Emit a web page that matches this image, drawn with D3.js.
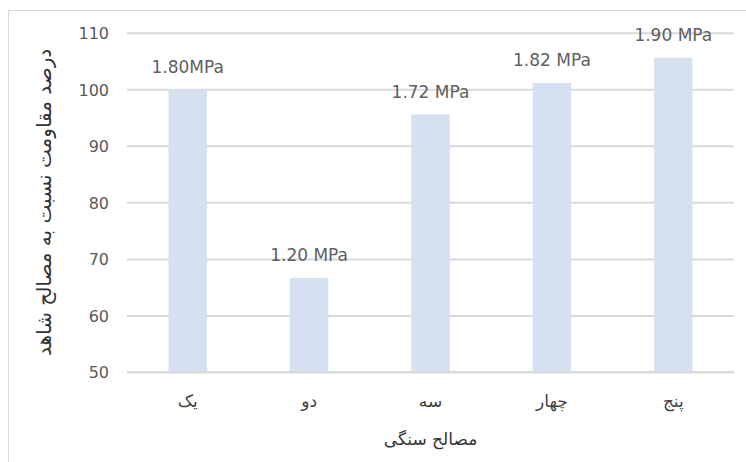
<!DOCTYPE html>
<html>
<head>
<meta charset="utf-8">
<script src="https://cdn.jsdelivr.net/npm/d3@7"></script>
<style>
  html, body { margin: 0; padding: 0; background: #fff; }
  svg { display: block; }
</style>
</head>
<body>
<svg id="chart" width="746" height="462"></svg>
<script>
const categories = ["یک", "دو", "سه", "چهار", "پنج"];
const values = [100, 66.67, 95.56, 101.11, 105.56];
const valueLabels = ["1.80MPa", "1.20 MPa", "1.72 MPa", "1.82 MPa", "1.90 MPa"];
const yTicks = [50, 60, 70, 80, 90, 100, 110];
const xTitle = "مصالح سنگی";
const yTitle = "درصد مقاومت نسبت به مصالح شاهد";

const svg = d3.select("#chart");
const W = 746, H = 462;
const plot = { left: 127, right: 734, top: 32.7, bottom: 372 };

svg.append("rect").attr("x", 8.5).attr("y", 10.5).attr("width", W).attr("height", H)
  .attr("fill", "#fff").attr("stroke", "#d9d9d9").attr("stroke-width", 1);

const y = d3.scaleLinear().domain([50, 110]).range([plot.bottom, plot.top]);
const x = d3.scaleBand().domain(categories).range([plot.left, plot.right])
  .paddingInner(0.683).paddingOuter(0.3415);

// gridlines
const yAxis = d3.axisLeft(y).tickValues(yTicks).tickSize(-(plot.right - plot.left)).tickPadding(18).tickFormat(d3.format("d"));
const gy = svg.append("g").attr("transform", `translate(${plot.left},0)`).call(yAxis);
gy.select(".domain").remove();
gy.selectAll(".tick line").attr("stroke", "#d9d9d9").attr("stroke-width", 2);
gy.selectAll(".tick text").attr("fill", "#595959").attr("font-family", "DejaVu Sans, sans-serif")
  .attr("font-size", 16).attr("dy", "0.36em");

// bars
svg.append("g").selectAll("rect").data(values).join("rect")
  .attr("x", (d, i) => x(categories[i]))
  .attr("y", d => y(d))
  .attr("width", x.bandwidth())
  .attr("height", d => y(50) - y(d))
  .attr("fill", "#d5e1f0");

// redraw baseline on top of bars
svg.append("line").attr("x1", plot.left).attr("x2", plot.right)
  .attr("y1", y(50)).attr("y2", y(50)).attr("stroke", "#d9d9d9").attr("stroke-width", 2);

// value labels
svg.append("g").selectAll("text").data(values).join("text")
  .attr("x", (d, i) => x(categories[i]) + x.bandwidth() / 2)
  .attr("y", d => y(d) - 16.5)
  .attr("text-anchor", "middle")
  .attr("font-family", "DejaVu Sans, sans-serif")
  .attr("font-size", 17)
  .attr("fill", "#5f5f5f")
  .text((d, i) => valueLabels[i]);

// x axis labels
const xAxis = d3.axisBottom(x).tickSize(0).tickPadding(0);
const gx = svg.append("g").attr("transform", `translate(0,${plot.bottom})`).call(xAxis);
gx.select(".domain").remove();
gx.selectAll(".tick text").attr("y", 35).attr("dy", 0)
  .attr("fill", "#404040").attr("font-family", "DejaVu Sans, sans-serif").attr("font-size", 17)
  .attr("direction", "rtl");

// axis titles
svg.append("text")
  .attr("x", (plot.left + plot.right) / 2).attr("y", 445)
  .attr("text-anchor", "middle").attr("direction", "rtl")
  .attr("font-family", "DejaVu Sans, sans-serif").attr("font-size", 17)
  .attr("fill", "#333").text(xTitle);

svg.append("text")
  .attr("transform", `translate(51,${(plot.top + plot.bottom) / 2}) rotate(-90)`)
  .attr("text-anchor", "middle").attr("direction", "rtl")
  .attr("font-family", "DejaVu Sans, sans-serif").attr("font-size", 20)
  .attr("fill", "#333").text(yTitle);
</script>
</body>
</html>
